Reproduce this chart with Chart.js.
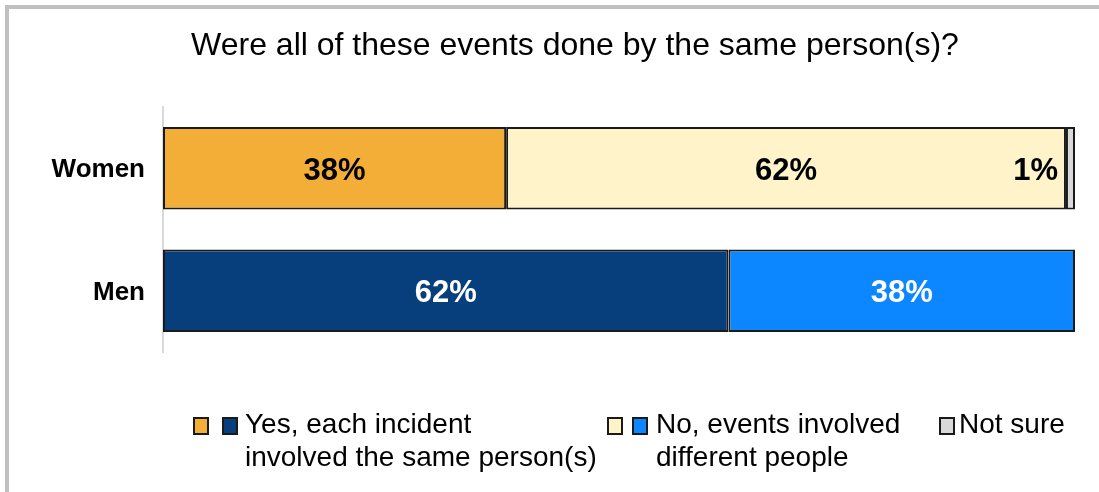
<!DOCTYPE html>
<html>
<head>
<meta charset="utf-8">
<script src="https://cdn.jsdelivr.net/npm/chart.js@4"></script>
<style>
  html, body { margin: 0; padding: 0; background: #fff; }
  #wrap { width: 1099px; height: 492px; }
</style>
</head>
<body>
<div id="wrap"><canvas id="chart" width="1099" height="492"></canvas></div>
<script>
const categories = ['Women', 'Men'];
const yesValues = [38, 62];
const noValues = [62, 38];
const notSureValues = [1, 0];
const seriesNames = ['Yes, each incident\ninvolved the same person(s)', 'No, events involved\ndifferent people', 'Not sure'];
const titleText = 'Were all of these events done by the same person(s)?';

const FONT = '"Liberation Sans", Arial, sans-serif';

// colours per category (women, men)
const yesColors = ['#f3ae37', '#063f7b'];
const noColors = ['#fff3c9', '#0d87ff'];
const notSureColors = ['#d9d9d9', '#d9d9d9'];
const labelColors = ['#000', '#fff'];

// bar lengths are each row's share of its own total
const rowTotals = categories.map((c, i) => yesValues[i] + noValues[i] + notSureValues[i]);
const share = arr => arr.map((v, i) => v / rowTotals[i] * 100);

const raw = [yesValues, noValues, notSureValues];

const framePlugin = {
  id: 'frame',
  beforeDraw(chart) {
    const ctx = chart.ctx;
    ctx.save();
    ctx.fillStyle = '#fff';
    ctx.fillRect(0, 0, chart.width, chart.height);
    ctx.fillStyle = '#c0c0c0';
    ctx.fillRect(5, 5, chart.width - 5, 4);
    ctx.fillRect(5, 5, 4, chart.height - 5);
    ctx.fillStyle = '#000';
    ctx.font = '32px ' + FONT;
    ctx.textAlign = 'center';
    ctx.textBaseline = 'middle';
    ctx.fillText(titleText, 575, 46);
    ctx.restore();
  }
};

const labelPlugin = {
  id: 'barLabels',
  afterDatasetsDraw(chart) {
    const ctx = chart.ctx;
    ctx.save();
    ctx.font = 'bold 31px ' + FONT;
    ctx.textBaseline = 'middle';
    chart.data.datasets.forEach((ds, di) => {
      chart.getDatasetMeta(di).data.forEach((bar, i) => {
        const v = raw[di][i];
        if (!v) return;
        ctx.fillStyle = labelColors[i];
        const w = bar.x - bar.base;
        if (w < 60) {
          ctx.textAlign = 'right';
          ctx.fillText(v + '%', bar.base - 8, bar.y + 3);
        } else {
          ctx.textAlign = 'center';
          ctx.fillText(v + '%', (bar.x + bar.base) / 2, bar.y + 3);
        }
      });
    });
    ctx.restore();
  }
};

// legend: two swatches per entry (women colour, men colour)
const legendItems = [
  { swatchX: [194, 223], textX: 245, colors: [yesColors[0], yesColors[1]] },
  { swatchX: [608, 633], textX: 656, colors: [noColors[0], noColors[1]] },
  { swatchX: [940], textX: 959, colors: [notSureColors[0]] }
];
const legendPlugin = {
  id: 'twoToneLegend',
  afterDraw(chart) {
    const ctx = chart.ctx;
    ctx.save();
    ctx.font = '28px ' + FONT;
    ctx.textBaseline = 'middle';
    ctx.textAlign = 'left';
    legendItems.forEach((item, k) => {
      item.swatchX.forEach((x, s) => {
        ctx.fillStyle = item.colors[s];
        ctx.fillRect(x, 418, 14, 16);
        ctx.strokeStyle = '#1a1a1a';
        ctx.lineWidth = 2;
        ctx.strokeRect(x, 418, 14, 16);
      });
      ctx.fillStyle = '#000';
      seriesNames[k].split('\n').forEach((line, l) => {
        ctx.fillText(line, item.textX, 425 + l * 33);
      });
    });
    ctx.restore();
  }
};

new Chart(document.getElementById('chart'), {
  type: 'bar',
  data: {
    labels: categories,
    datasets: [
      { label: seriesNames[0], data: share(yesValues), backgroundColor: yesColors },
      { label: seriesNames[1], data: share(noValues), backgroundColor: noColors },
      { label: seriesNames[2], data: share(notSureValues), backgroundColor: notSureColors }
    ].map(d => Object.assign(d, {
      borderColor: '#1a1a1a',
      borderWidth: 2,
      borderSkipped: false,
      barPercentage: 0.675,
      categoryPercentage: 1
    }))
  },
  options: {
    indexAxis: 'y',
    responsive: false,
    animation: false,
    layout: { padding: { top: 107, bottom: 140, right: 24, left: 0 } },
    plugins: {
      legend: { display: false },
      title: { display: false },
      tooltip: { enabled: false }
    },
    scales: {
      x: { stacked: true, min: 0, max: 100, display: false },
      y: {
        stacked: true,
        grid: { display: false, drawTicks: false },
        border: { display: true, color: '#d9d9d9', width: 2 },
        ticks: { color: '#000', padding: 18, labelOffset: 2, font: { family: FONT, size: 26, weight: 'bold' } },
        afterFit(scale) { scale.width = 163; }
      }
    }
  },
  plugins: [framePlugin, labelPlugin, legendPlugin]
});
</script>
</body>
</html>
